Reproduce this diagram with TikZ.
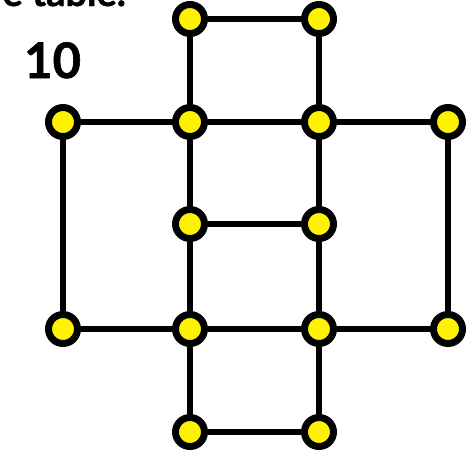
\documentclass[tikz,border=0pt]{standalone}
\usepackage{fontspec}
\setmainfont{Lato}[BoldFeatures={FakeBold=1.2}]
\usetikzlibrary{positioning}
\tikzset{
	dot/.style={circle, draw=black, fill=yellow, line width=7pt, minimum size=29pt, inner sep=0pt},
	edge/.style={line width=6.5pt, black},
}
\begin{document}
\begin{tikzpicture}[x=1pt, y=-1pt]
		\useasboundingbox (0, 0) rectangle (472, 451);
		\node[anchor=base east, font=\bfseries\fontsize{38}{38}\selectfont, inner sep=0pt] (caption) at (126, 6) {e table.};
		\node[anchor=base west, font=\bfseries\fontsize{49}{49}\selectfont, inner sep=0pt] (num) at (24, 78) {10};
		% top
		\node[dot] (t1) at (190, 19) {};
		\node[dot] (t2) at (319, 19) {};
		% upper row
		\node[dot] (m1) at (63, 122) {};
		\node[dot] (m2) at (190, 122) {};
		\node[dot] (m3) at (319, 122) {};
		\node[dot] (m4) at (448, 122) {};
		% middle
		\node[dot] (c1) at (190, 224) {};
		\node[dot] (c2) at (319, 224) {};
		% lower row
		\node[dot] (n1) at (63, 329) {};
		\node[dot] (n2) at (190, 329) {};
		\node[dot] (n3) at (319, 329) {};
		\node[dot] (n4) at (448, 329) {};
		% bottom
		\node[dot] (b1) at (190, 432) {};
		\node[dot] (b2) at (319, 432) {};
		% connectors
		\draw[edge] (t1) -- (t2);
		\draw[edge] (m1) -- (m2) -- (m3) -- (m4);
		\draw[edge] (c1) -- (c2);
		\draw[edge] (n1) -- (n2) -- (n3) -- (n4);
		\draw[edge] (b1) -- (b2);
		\draw[edge] (t1) -- (m2) -- (c1) -- (n2) -- (b1);
		\draw[edge] (t2) -- (m3) -- (c2) -- (n3) -- (b2);
		\draw[edge] (m1) -- (n1);
		\draw[edge] (m4) -- (n4);
	\end{tikzpicture}
\end{document}
